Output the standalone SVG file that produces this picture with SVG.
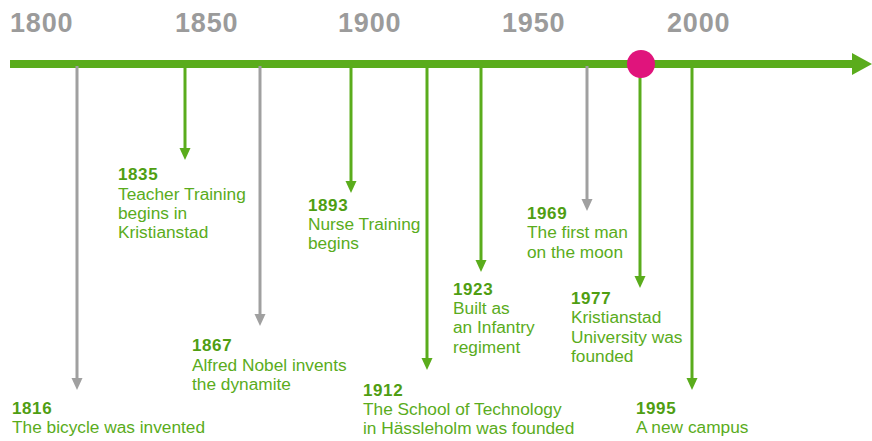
<svg xmlns="http://www.w3.org/2000/svg" width="872" height="441" viewBox="0 0 872 441">
<defs>
<style>
.yr{font-family:"Liberation Sans",Arial,sans-serif;font-weight:bold;font-size:27px;letter-spacing:0.8px;fill:#9b9b9b}
.t{font-family:"Liberation Sans",Arial,sans-serif;font-size:17.3px;fill:#5aac1c}
.y{font-family:"Liberation Sans",Arial,sans-serif;font-weight:bold;font-size:17px;letter-spacing:0.6px;fill:#4f9e12}
.g{stroke:#5aac1c;stroke-width:3;fill:none}
.r{stroke:#a0a0a0;stroke-width:3;fill:none}
</style>
</defs>
<rect width="872" height="441" fill="#ffffff"/>
<g id="axis">
<line x1="10" y1="64" x2="856" y2="64" stroke="#5aac1c" stroke-width="8"/>
<path d="M852,53 L872,64 L852,75 Z" fill="#5aac1c"/>
<text class="yr" x="10" y="32">1800</text>
<text class="yr" x="175" y="32">1850</text>
<text class="yr" x="338" y="32">1900</text>
<text class="yr" x="502" y="32">1950</text>
<text class="yr" x="667" y="32">2000</text>
</g>
<g id="connectors">
<line class="r" x1="77" y1="66" x2="77" y2="380"/><path d="M71.5,378 L82.5,378 L77,390 Z" fill="#a0a0a0"/>
<line class="g" x1="185" y1="66" x2="185" y2="150"/><path d="M179.5,148 L190.5,148 L185,160 Z" fill="#5aac1c"/>
<line class="r" x1="260" y1="66" x2="260" y2="316"/><path d="M254.5,314 L265.5,314 L260,326 Z" fill="#a0a0a0"/>
<line class="g" x1="351" y1="66" x2="351" y2="183"/><path d="M345.5,181 L356.5,181 L351,193 Z" fill="#5aac1c"/>
<line class="g" x1="427" y1="66" x2="427" y2="360"/><path d="M421.5,358 L432.5,358 L427,370 Z" fill="#5aac1c"/>
<line class="g" x1="481" y1="66" x2="481" y2="262"/><path d="M475.5,260 L486.5,260 L481,272 Z" fill="#5aac1c"/>
<line class="r" x1="587" y1="66" x2="587" y2="201"/><path d="M581.5,199 L592.5,199 L587,211 Z" fill="#a0a0a0"/>
<line class="g" x1="640" y1="66" x2="640" y2="278"/><path d="M634.5,276 L645.5,276 L640,288 Z" fill="#5aac1c"/>
<line class="g" x1="692" y1="66" x2="692" y2="380"/><path d="M686.5,378 L697.5,378 L692,390 Z" fill="#5aac1c"/>
</g>
<g id="now"><circle cx="641" cy="64" r="14" fill="#e0147c"/></g>
<g id="e1816"><text class="y" x="12" y="414">1816</text><text class="t" x="12" y="433">The bicycle was invented</text></g>
<g id="e1835"><text class="y" x="118" y="180">1835</text><text class="t" x="118" y="200">Teacher Training</text><text class="t" x="118" y="219">begins in</text><text class="t" x="118" y="238">Kristianstad</text></g>
<g id="e1867"><text class="y" x="192" y="351">1867</text><text class="t" x="192" y="371">Alfred Nobel invents</text><text class="t" x="192" y="390">the dynamite</text></g>
<g id="e1893"><text class="y" x="308" y="211">1893</text><text class="t" x="308" y="230">Nurse Training</text><text class="t" x="308" y="249">begins</text></g>
<g id="e1912"><text class="y" x="363" y="396">1912</text><text class="t" x="363" y="415">The School of Technology</text><text class="t" x="363" y="434">in Hässleholm was founded</text></g>
<g id="e1923"><text class="y" x="453" y="295">1923</text><text class="t" x="453" y="314">Built as</text><text class="t" x="453" y="333">an Infantry</text><text class="t" x="453" y="353">regiment</text></g>
<g id="e1969"><text class="y" x="527" y="219">1969</text><text class="t" x="527" y="238">The first man</text><text class="t" x="527" y="258">on the moon</text></g>
<g id="e1977"><text class="y" x="571" y="304">1977</text><text class="t" x="571" y="323">Kristianstad</text><text class="t" x="571" y="343">University was</text><text class="t" x="571" y="362">founded</text></g>
<g id="e1995"><text class="y" x="636" y="414">1995</text><text class="t" x="636" y="433">A new campus</text></g>
</svg>
